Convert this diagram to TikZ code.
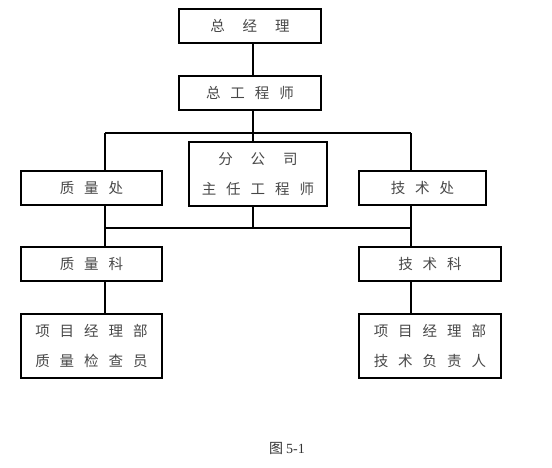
\documentclass[tikz,border=0pt]{standalone}
\usepackage{fontspec}
\setmainfont{Liberation Serif}
\newfontfamily\cjk{Noto Sans CJK SC}
\newcommand\gs{\hspace{10pt}}
\newcommand\gw{\hspace{18pt}}
\begin{document}
\begin{tikzpicture}[x=1pt,y=-1pt,
  box/.style={draw=black,line width=2pt,inner sep=0pt,align=center,
    font=\cjk\fontsize{14.5}{30}\selectfont,text=black!72},
  conn/.style={line width=2pt}]
\useasboundingbox (0,0) rectangle (552,467);
\node[box,minimum width=142pt,minimum height=34pt] (zjl) at (250,26) {总\gw 经\gw 理};
\node[box,minimum width=142pt,minimum height=34pt] (zgcs) at (250,93) {总\gs 工\gs 程\gs 师};
\node[box,minimum width=138pt,minimum height=64pt] (fgs) at (258,174) {分\gw 公\gw 司\\主\gs 任\gs 工\gs 程\gs 师};
\node[box,minimum width=141pt,minimum height=34pt] (zlc) at (91.5,188) {质\gs 量\gs 处};
\node[box,minimum width=127pt,minimum height=34pt] (jsc) at (422.5,188) {技\gs 术\gs 处};
\node[box,minimum width=141pt,minimum height=34pt] (zlk) at (91.5,264) {质\gs 量\gs 科};
\node[box,minimum width=142pt,minimum height=34pt] (jsk) at (430,264) {技\gs 术\gs 科};
\node[box,minimum width=141pt,minimum height=64pt] (zlj) at (91.5,346) {项\gs 目\gs 经\gs 理\gs 部\\质\gs 量\gs 检\gs 查\gs 员};
\node[box,minimum width=142pt,minimum height=64pt] (jsf) at (430,346) {项\gs 目\gs 经\gs 理\gs 部\\技\gs 术\gs 负\gs 责\gs 人};
\node[font=\fontsize{14}{16}\selectfont,text=black!80] (cap) at (287,448) {{\cjk 图}\hspace{3pt}5-1};
\coordinate (spine) at (253,0);
\coordinate (h1L) at (105,133);
\coordinate (h1R) at (411,133);
\coordinate (h2L) at (105,228);
\coordinate (h2R) at (411,228);
\draw[conn] (zjl.south -| spine) -- (zgcs.north -| spine);
\draw[conn] (zgcs.south -| spine) -- (fgs.north -| spine);
\draw[conn] (h1L) -- (h1R);
\draw[conn] (h2L) -- (h2R);
\draw[conn] (fgs.south -| spine) -- (h2L -| spine);
\draw[conn] (h1L) -- (zlc.north -| h1L);
\draw[conn] (zlc.south -| h1L) -- (zlk.north -| h1L);
\draw[conn] (zlk.south -| h1L) -- (zlj.north -| h1L);
\draw[conn] (h1R) -- (jsc.north -| h1R);
\draw[conn] (jsc.south -| h1R) -- (jsk.north -| h1R);
\draw[conn] (jsk.south -| h1R) -- (jsf.north -| h1R);
\end{tikzpicture}
\end{document}
